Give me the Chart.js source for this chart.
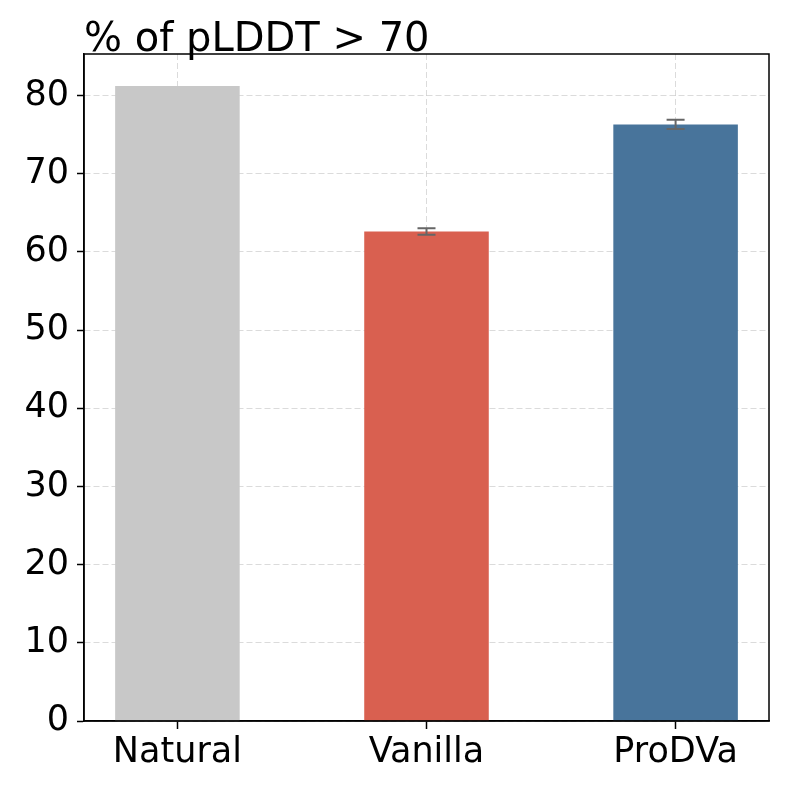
<!DOCTYPE html>
<html>
<head>
<meta charset="utf-8">
<script src="https://cdn.jsdelivr.net/npm/chart.js@4"></script>
<style>
  html, body { margin: 0; padding: 0; background: #fff; }
  canvas { display: block; }
</style>
</head>
<body>
<canvas id="chart" width="793" height="793"></canvas>
<script>
const categories = ['Natural', 'Vanilla', 'ProDVa'];
const values = [81.2, 62.6, 76.3];
const errors = [0, 0.4, 0.6];
const barColors = ['#c8c8c8', '#d96050', '#48749b'];
const yTicks = [0, 10, 20, 30, 40, 50, 60, 70, 80];
const titleText = '% of pLDDT > 70';

Chart.defaults.font.family = "'DejaVu Sans', sans-serif";
Chart.defaults.color = '#000';

const gridColor = 'rgba(170, 170, 170, 0.42)';

// error bars, title and the box around the plot area
const decorations = {
  id: 'decorations',
  afterDraw(chart) {
    const { ctx, chartArea, scales } = chart;
    ctx.save();

    ctx.strokeStyle = '#666';
    ctx.lineWidth = 2;
    values.forEach((v, i) => {
      if (!errors[i]) return;
      const x = scales.x.getPixelForValue(i);
      const top = scales.y.getPixelForValue(v + errors[i]);
      const bot = scales.y.getPixelForValue(v - errors[i]);
      ctx.beginPath();
      ctx.moveTo(x, top); ctx.lineTo(x, bot);
      ctx.moveTo(x - 9, top); ctx.lineTo(x + 9, top);
      ctx.moveTo(x - 9, bot); ctx.lineTo(x + 9, bot);
      ctx.stroke();
    });

    ctx.setLineDash([]);
    ctx.strokeStyle = '#000';
    ctx.lineWidth = 1.5;
    ctx.strokeRect(chartArea.left, chartArea.top,
      chartArea.right - chartArea.left, chartArea.bottom - chartArea.top);

    ctx.fillStyle = '#000';
    ctx.font = "40px 'DejaVu Sans'";
    ctx.textBaseline = 'alphabetic';
    ctx.textAlign = 'left';
    ctx.fillText(titleText, chartArea.left, chartArea.top - 3);
    ctx.restore();
  }
};

new Chart(document.getElementById('chart'), {
  type: 'bar',
  data: {
    datasets: [{
      data: values.map((v, i) => ({ x: i, y: v })),
      backgroundColor: barColors,
      borderWidth: 0,
      categoryPercentage: 0.5,
      barPercentage: 1.0
    }]
  },
  options: {
    responsive: false,
    animation: false,
    layout: { padding: { left: 0, right: 24, top: 54, bottom: 0 } },
    plugins: {
      legend: { display: false },
      tooltip: { enabled: false }
    },
    scales: {
      x: {
        type: 'linear',
        min: -0.375,
        max: 2.375,
        offset: false,
        z: 1,
        afterBuildTicks: scale => { scale.ticks = categories.map((c, i) => ({ value: i })); },
        afterFit: scale => { scale.height = 793 - 721; },
        ticks: {
          callback: v => categories[v],
          font: { size: 35 },
          padding: 3,
          maxRotation: 0
        },
        grid: {
          offset: false,
          color: gridColor,
          lineWidth: 1,
          tickColor: '#000',
          tickWidth: 1.5,
          tickLength: 8,
          tickBorderDash: []
        },
        border: { color: '#000', width: 1.5, dash: [6, 3] }
      },
      y: {
        min: 0,
        max: 85.3,
        z: 1,
        afterBuildTicks: scale => { scale.ticks = yTicks.map(v => ({ value: v })); },
        afterFit: scale => { scale.width = 84; },
        ticks: {
          font: { size: 35 },
          padding: 8
        },
        grid: {
          color: gridColor,
          lineWidth: 1,
          tickColor: '#000',
          tickWidth: 1.5,
          tickLength: 7,
          tickBorderDash: []
        },
        border: { color: '#000', width: 1.5, dash: [6, 3] }
      }
    }
  },
  plugins: [decorations]
});
</script>
</body>
</html>
